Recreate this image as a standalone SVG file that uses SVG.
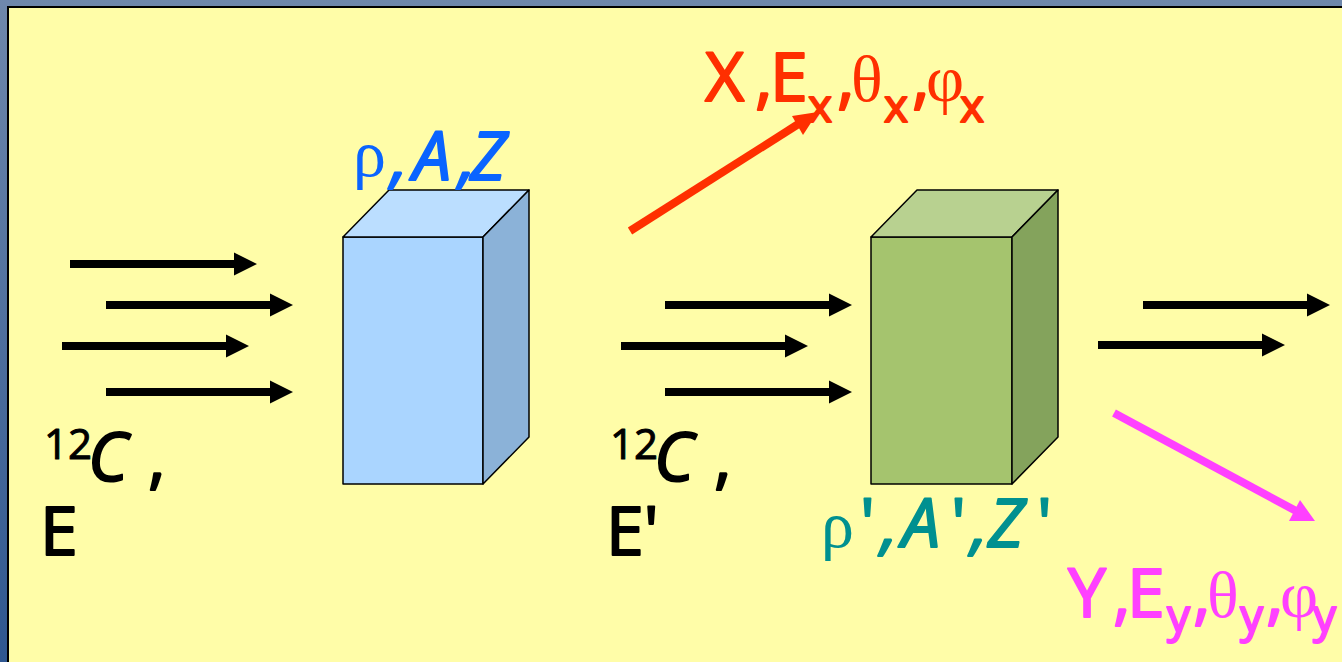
<svg xmlns="http://www.w3.org/2000/svg" width="1342" height="662" viewBox="0 0 1342 662">
<style>
.t{font-family:"Open Sans","Noto Sans",sans-serif;font-size:68px;stroke-width:2;stroke-linejoin:round}
.i{font-style:italic}
.s{font-family:"Liberation Serif",serif;font-size:66px;stroke-width:0}
.sub{font-size:46px}
.sup{font-size:42px;stroke-width:1}
.e{stroke:#000;stroke-width:1.5;stroke-linejoin:round}
.k{fill:#000;stroke:#000}
.blk{fill:#000;stroke:#000}
.red{fill:#FF2F00;stroke:#FF2F00}
.mag{fill:#FF40FF;stroke:#FF40FF}
.blu{fill:#0A64FF;stroke:#0A64FF}
.tea{fill:#009090;stroke:#009090}
</style>
<defs>
<path id="ar" d="M0 -4H164V-11.500L187 0L164 11.500V4H0Z" fill="#000"/>
<linearGradient id="bg" x1="0" y1="0" x2="0" y2="1"><stop offset="0" stop-color="#6F88AC"/><stop offset="1" stop-color="#2F5790"/></linearGradient>
</defs>
<rect width="1342" height="662" fill="url(#bg)"/>
<rect x="8" y="7" width="1340" height="662" fill="#FFFDA8" stroke="#000" stroke-width="2"/>
<g id="block-blue">
<path class="e" fill="#AAD5FF" d="M343 237H483V484H343Z"/>
<path class="e" fill="#BBDEFF" d="M343 237L389 190H529L483 237Z"/>
<path class="e" fill="#8BB2D8" d="M483 237L529 190V437L483 484Z"/>
</g>
<g id="block-green">
<path class="e" fill="#A5C46E" d="M871 237H1012V484H871Z"/>
<path class="e" fill="#B8D190" d="M871 237L917 190H1058L1012 237Z"/>
<path class="e" fill="#84A35C" d="M1012 237L1058 190V437L1012 484Z"/>
</g>
<g id="connectors">
<use href="#ar" x="70" y="264"/>
<use href="#ar" x="106" y="305"/>
<use href="#ar" x="62" y="346"/>
<use href="#ar" x="106" y="392"/>
<use href="#ar" x="665" y="305"/>
<use href="#ar" x="621" y="346"/>
<use href="#ar" x="665" y="392"/>
<use href="#ar" x="1143" y="305"/>
<use href="#ar" x="1098" y="345"/>
<path d="M630 231L800 123" stroke="#FF2F00" stroke-width="8" fill="none"/>
<path d="M818 112L792 116L803 135Z" fill="#FF2F00"/>
<path d="M1114 413L1298 512" stroke="#FF40FF" stroke-width="8" fill="none"/>
<path d="M1315 521L1300 500L1289 521Z" fill="#FF40FF"/>
</g>
<g id="label-x" class="red">
<text class="t" y="101" x="705 755 770">X,E</text>
<text class="t sub" y="122" x="808">x</text>
<text class="t" y="101" x="837">,</text>
<text class="s" y="101" x="851">θ</text>
<text class="t sub" y="122" x="884">x</text>
<text class="t" y="101" x="912">,</text>
<text class="s" y="101" x="926">φ</text>
<text class="t sub" y="122" x="960">x</text>
</g>
<g id="label-y" class="mag">
<text class="t" y="617" x="1068 1113 1127">Y,E</text>
<text class="t sub" y="632" x="1167">y</text>
<text class="t" y="617" x="1193">,</text>
<text class="s" y="617" x="1207">θ</text>
<text class="t sub" y="632" x="1240">y</text>
<text class="t" y="617" x="1266">,</text>
<text class="s" y="617" x="1280">φ</text>
<text class="t sub" y="632" x="1313">y</text>
</g>
<g id="label-blue" class="blu">
<text class="s" y="176" x="353">ρ</text>
<text class="t i" y="180" x="391 413 459 470">,A,Z</text>
</g>
<g id="label-teal" class="tea">
<text class="s" y="547" x="821">ρ</text>
<text class="t" y="547" x="860">'</text>
<text class="t i" y="547" x="881 902">,A</text>
<text class="t" y="547" x="951">'</text>
<text class="t i" y="547" x="971 988">,Z</text>
<text class="t" y="547" x="1037">'</text>
</g>
<g id="label-c1" class="blk">
<text class="t sup" y="459" x="44">12</text>
<text class="t i" y="481" x="88">C</text>
<text class="t" y="481" x="148">,</text>
<text class="t" y="555" x="40">E</text>
</g>
<g id="label-c2" class="blk">
<text class="t sup" y="459" x="610">12</text>
<text class="t i" y="481" x="654">C</text>
<text class="t" y="481" x="714">,</text>
<text class="t" y="555" x="606">E'</text>
</g>
</svg>
